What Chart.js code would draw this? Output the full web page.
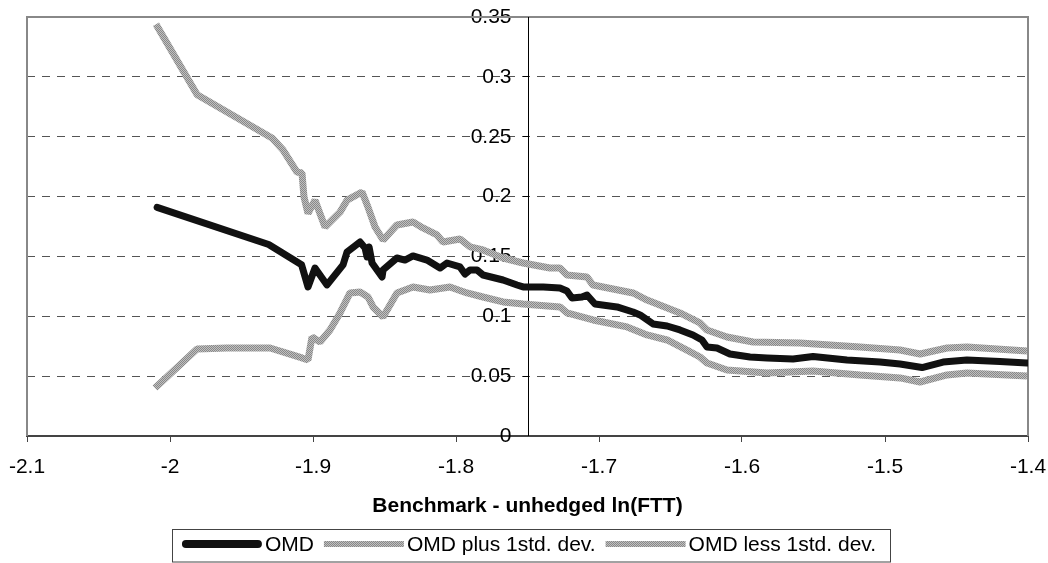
<!DOCTYPE html>
<html>
<head>
<meta charset="utf-8">
<script src="https://cdn.jsdelivr.net/npm/chart.js@4.4.1/dist/chart.umd.min.js"></script>
<style>
  html, body { margin: 0; padding: 0; background: #fff; }
</style>
</head>
<body>
<canvas id="chart" width="1048" height="563"></canvas>
<script>
// values
const omdX = [-2.009, -1.931, -1.908, -1.9035, -1.8986, -1.8902, -1.879, -1.8762, -1.8671, -1.8636,
  -1.8622, -1.8608, -1.8587, -1.8517, -1.851, -1.8413, -1.8357, -1.8301, -1.8203, -1.8112,
  -1.8063, -1.7972, -1.7937, -1.7902, -1.7853, -1.7811, -1.7671, -1.7573, -1.7531, -1.739,
  -1.7273, -1.7224, -1.7189, -1.7119, -1.7084, -1.7028, -1.6874, -1.6762, -1.6713, -1.6622,
  -1.6524, -1.6434, -1.6343, -1.628, -1.6245, -1.6175, -1.6084, -1.5944, -1.5825, -1.5643,
  -1.5503, -1.5266, -1.5035, -1.4895, -1.4741, -1.4594, -1.4427, -1.4196, -1.4007];
const omdY = [0.191, 0.160, 0.143, 0.1245, 0.1403, 0.1262, 0.1429, 0.1537, 0.1621, 0.1571,
  0.1495, 0.1579, 0.1445, 0.1328, 0.1387, 0.1487, 0.147, 0.1504, 0.147, 0.1403,
  0.1445, 0.1412, 0.1353, 0.1387, 0.1387, 0.1345, 0.1303, 0.1261, 0.1245, 0.1245,
  0.1236, 0.1211, 0.1153, 0.1161, 0.1178, 0.1103, 0.1078, 0.1036, 0.1011, 0.0936,
  0.0919, 0.0886, 0.0844, 0.0802, 0.0744, 0.0735, 0.0685, 0.066, 0.0652, 0.0643,
  0.0664, 0.0635, 0.0618, 0.0601, 0.0572, 0.0618, 0.0635, 0.0622, 0.061];

const plusX = [-2.0098, -1.981, -1.9287, -1.921, -1.9112, -1.9077, -1.9063, -1.9035, -1.8986, -1.8916,
  -1.8811, -1.8762, -1.8657, -1.8615, -1.8566, -1.851, -1.8413, -1.8301, -1.8231, -1.8133,
  -1.8091, -1.7972, -1.7902, -1.7811, -1.7671, -1.7531, -1.7343, -1.7273, -1.7224, -1.7084,
  -1.7042, -1.6762, -1.6664, -1.6434, -1.6294, -1.6245, -1.6105, -1.5923, -1.5594, -1.5175,
  -1.4895, -1.4755, -1.4566, -1.4427, -1.4007];
const plusY = [0.344, 0.285, 0.249, 0.239, 0.2205, 0.2197, 0.1997, 0.186, 0.197, 0.1746,
  0.187, 0.197, 0.2038, 0.191, 0.1746, 0.1637, 0.1763, 0.1788, 0.1738, 0.168,
  0.162, 0.1646, 0.158, 0.1554, 0.1487, 0.1445, 0.1403, 0.1403, 0.1345, 0.1328,
  0.1261, 0.1195, 0.1136, 0.1028, 0.0944, 0.0886, 0.0827, 0.0785, 0.0777, 0.0743,
  0.0718, 0.0685, 0.0735, 0.0743, 0.071];

const lessX = [-2.0105, -1.9811, -1.9601, -1.93, -1.9077, -1.9035, -1.9007, -1.8951, -1.8881, -1.8811,
  -1.8741, -1.8671, -1.8615, -1.858, -1.851, -1.8413, -1.8301, -1.8182, -1.8042, -1.7923,
  -1.7811, -1.7671, -1.7531, -1.7273, -1.7224, -1.7042, -1.6804, -1.6664, -1.6524, -1.6385,
  -1.6294, -1.6245, -1.6105, -1.5825, -1.5503, -1.5175, -1.4895, -1.4755, -1.4566, -1.4427,
  -1.4007];
const lessY = [0.0401, 0.0727, 0.0735, 0.0735, 0.0652, 0.0635, 0.0827, 0.0785, 0.0886, 0.1028,
  0.1195, 0.1203, 0.1161, 0.1078, 0.0994, 0.1195, 0.1245, 0.122, 0.1245, 0.1195,
  0.1161, 0.112, 0.1103, 0.1078, 0.1028, 0.0969, 0.0911, 0.0844, 0.0802, 0.0718,
  0.066, 0.061, 0.0551, 0.0526, 0.0543, 0.051, 0.0485, 0.0451, 0.051, 0.0526,
  0.0501];

const seriesNames = ['OMD', 'OMD plus 1std. dev.', 'OMD less 1std. dev.'];
const xTitle = 'Benchmark - unhedged ln(FTT)';

const FONT = '"Liberation Sans", Arial, sans-serif';
const FSIZE = 21;

function toPoints(xs, ys) {
  return xs.map((x, i) => ({ x: x, y: ys[i] }));
}

// dotted grey texture like the original band lines
function greyPattern() {
  const c = document.createElement('canvas');
  c.width = 2; c.height = 2;
  const g = c.getContext('2d');
  g.fillStyle = '#c0c0c0'; g.fillRect(0, 0, 2, 2);
  g.fillStyle = '#888888'; g.fillRect(0, 0, 1, 1); g.fillRect(1, 1, 1, 1);
  return g.createPattern(c, 'repeat');
}
const grey = greyPattern();

const plotFrame = {
  id: 'plotFrame',
  beforeDatasetsDraw(chart) {
    const { ctx, chartArea: a } = chart;
    ctx.save();
    ctx.strokeStyle = '#888';
    ctx.lineWidth = 2;
    ctx.beginPath();
    ctx.moveTo(a.left, a.bottom);
    ctx.lineTo(a.left, a.top);
    ctx.lineTo(a.right, a.top);
    ctx.lineTo(a.right, a.bottom);
    ctx.stroke();
    // vertical axis through x = -1.75
    const xp = Math.round(chart.scales.x.getPixelForValue(-1.75)) + 0.5;
    ctx.strokeStyle = '#000';
    ctx.lineWidth = 1;
    ctx.beginPath();
    ctx.moveTo(xp, a.top);
    ctx.lineTo(xp, a.bottom);
    ctx.stroke();
    ctx.restore();
  }
};

const legendBox = {
  id: 'legendBox',
  afterDraw(chart) {
    const ctx = chart.ctx;
    ctx.save();
    ctx.font = FSIZE + 'px ' + FONT;
    const boxL = 172, boxR = 890, boxT = 529, boxB = 562;
    ctx.strokeStyle = '#444';
    ctx.lineWidth = 1;
    ctx.strokeRect(boxL + 0.5, boxT + 0.5, boxR - boxL, boxB - boxT - 0.5);

    const sample = 80, gapText = 3, gapItem = 10;
    const items = chart.data.datasets.map(ds => ({ ds: ds, w: ctx.measureText(ds.label).width }));
    let total = 0;
    items.forEach((it, i) => { total += sample + gapText + it.w + (i ? gapItem : 0); });
    let x = (boxL + boxR) / 2 - total / 2 - 2;
    const y = 545;
    items.forEach(it => {
      ctx.beginPath();
      ctx.strokeStyle = it.ds.borderColor;
      if (it.ds.label === 'OMD') {
        ctx.lineWidth = 8;
        ctx.lineCap = 'round';
        ctx.moveTo(x + 4, y - 1);
        ctx.lineTo(x + sample - 4, y - 1);
      } else {
        ctx.lineWidth = 6;
        ctx.lineCap = 'butt';
        ctx.moveTo(x, y - 1);
        ctx.lineTo(x + sample, y - 1);
      }
      ctx.stroke();
      ctx.fillStyle = '#000';
      ctx.textBaseline = 'middle';
      ctx.textAlign = 'left';
      ctx.fillText(it.ds.label, x + sample + gapText, y);
      x += sample + gapText + it.w + gapItem;
    });
    ctx.restore();
  }
};

new Chart(document.getElementById('chart'), {
  type: 'line',
  data: {
    datasets: [
      {
        label: seriesNames[0],
        data: toPoints(omdX, omdY),
        borderColor: '#111',
        borderWidth: 7,
        borderJoinStyle: 'round',
        borderCapStyle: 'round'
      },
      {
        label: seriesNames[1],
        data: toPoints(plusX, plusY),
        borderColor: grey,
        borderWidth: 7,
        borderJoinStyle: 'bevel'
      },
      {
        label: seriesNames[2],
        data: toPoints(lessX, lessY),
        borderColor: grey,
        borderWidth: 7,
        borderJoinStyle: 'bevel'
      }
    ]
  },
  options: {
    responsive: false,
    animation: false,
    elements: { point: { radius: 0 }, line: { tension: 0, fill: false } },
    layout: { padding: { left: 27, right: 20, top: 17, bottom: 0 } },
    plugins: {
      legend: { display: false },
      tooltip: { enabled: false }
    },
    scales: {
      x: {
        type: 'linear',
        position: 'bottom',
        min: -2.1,
        max: -1.4,
        ticks: {
          stepSize: 0.1,
          color: '#000',
          font: { family: FONT, size: FSIZE },
          padding: 13,
          maxRotation: 0,
          callback: v => String(Math.round(v * 10) / 10)
        },
        grid: {
          drawOnChartArea: false,
          drawTicks: true,
          tickLength: 6,
          tickColor: '#444',
          tickWidth: 1
        },
        border: { display: true, color: '#444', width: 2 },
        title: {
          display: true,
          text: xTitle,
          color: '#000',
          font: { family: FONT, size: FSIZE, weight: 'bold' },
          padding: { top: 0, bottom: 44 }
        },
        afterFit: s => {
          s.height = 127;
          s.paddingLeft = 0;
          s.paddingRight = 0;
        }
      },
      y: {
        type: 'linear',
        position: 'center',
        min: 0,
        max: 0.35,
        ticks: {
          stepSize: 0.05,
          color: '#000',
          font: { family: FONT, size: FSIZE },
          padding: 11,
          callback: v => String(Math.round(v * 100) / 100)
        },
        grid: {
          color: c => (c.tick && (c.tick.value === 0 || c.tick.value > 0.34)) ? 'rgba(0,0,0,0)' : '#555',
          lineWidth: 1,
          borderDash: [8, 7],
          drawTicks: true,
          tickLength: 5,
          tickColor: '#000',
          tickBorderDash: []
        },
        border: { display: false, dash: [8, 7] },
        afterFit: s => {
          s.paddingTop = 0;
          s.paddingBottom = 0;
        }
      }
    }
  },
  plugins: [plotFrame, legendBox]
});
</script>
</body>
</html>
